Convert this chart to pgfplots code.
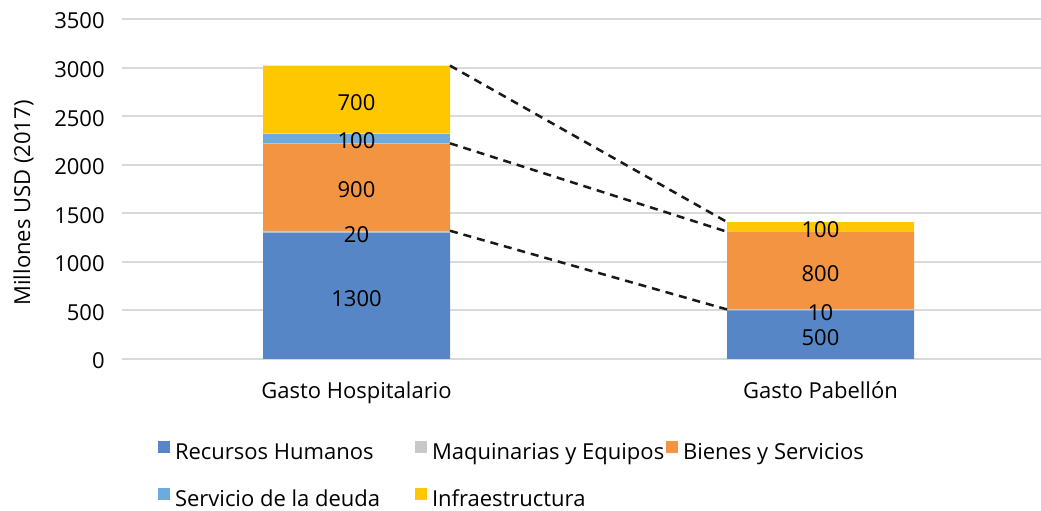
\documentclass[border=0pt]{standalone}
\usepackage{fontspec}
\setmainfont{Open Sans}
\usepackage{pgfplots}
\pgfplotsset{compat=1.18}

\definecolor{cRH}{HTML}{5686C5}
\definecolor{cME}{HTML}{C8C8C8}
\definecolor{cBS}{HTML}{F29441}
\definecolor{cSD}{HTML}{6CABDD}
\definecolor{cIN}{HTML}{FEC700}
\definecolor{cGrid}{HTML}{D9D9D9}

\pgfplotsset{
  sq/.style={fill=#1, draw=none,
    legend image code/.code={\fill[#1] (0pt,1pt) rectangle (6pt,7pt);}},
  base/.style={scale only axis, width=459.5pt, height=170pt,
    xmin=-0.5054, xmax=1.4752, enlarge x limits=false, ymin=0, ymax=3500},
  guide/.style={black!90, line width=1.25pt, dash pattern=on 4pt off 3pt},
}

\begin{document}
\begin{tikzpicture}
\begin{axis}[
    base,
    ybar stacked,
    bar width=93.5pt,
    ytick={0,500,...,3500},
    xtick={0,1},
    xticklabels={Gasto Hospitalario, Gasto Pabellón},
    axis line style={draw=none},
    major tick length=0pt,
    ymajorgrids,
    grid style={cGrid, line width=1pt},
    /pgf/number format/assume math mode=true,
    /pgf/number format/1000 sep={},
    tick label style={font=\fontsize{11}{13}\selectfont},
    xticklabel style={anchor=base, yshift=-20pt},
    yticklabel style={anchor=base east, inner sep=0pt, xshift=-8.5pt, yshift=-5pt},
    ylabel={Millones USD (2017)},
    every axis y label/.style={at={(axis description cs:-0.1001,0.4588)}, anchor=base, rotate=90,
      font=\fontsize{11}{13}\selectfont},
    legend columns=3,
    legend style={draw=none, fill=none, inner sep=0pt, outer sep=0pt,
      at={(axis description cs:0.0392,-0.240)}, anchor=north west,
      /tikz/every odd column/.style={column sep=2.5pt},
      nodes={inner sep=0pt, text height=7pt, text depth=2pt, font=\fontsize{11}{13}\selectfont},
      row sep=12pt},
    legend cell align=left,
]
\addplot[sq=cRH] coordinates {(0,1300) (1,500)};
\addlegendentry{\makebox[120pt][l]{Recursos Humanos}}
\addplot[sq=cME] coordinates {(0,20) (1,10)};
\addlegendentry{\makebox[117pt][l]{Maquinarias y Equipos}}
\addplot[sq=cBS] coordinates {(0,900) (1,800)};
\addlegendentry{Bienes y Servicios}
\addplot[sq=cSD] coordinates {(0,100) (1,0)};
\addlegendentry{\makebox[120pt][l]{Servicio de la deuda}}
\addplot[sq=cIN] coordinates {(0,700) (1,100)};
\addlegendentry{Infraestructura}
\coordinate (LL) at (rel axis cs:0,0);
\coordinate (UR) at (rel axis cs:1,1);
\end{axis}
% dashed guides and segment labels
\begin{axis}[base, hide axis]
\addplot[guide] coordinates {(0.2015,3020) (0.7985,1410)};
\addplot[guide] coordinates {(0.2015,2220) (0.7985,1310)};
\addplot[guide] coordinates {(0.2015,1320) (0.7985,510)};
\addplot[only marks, mark=none, point meta=explicit symbolic, nodes near coords,
  every node near coord/.style={anchor=center, font=\fontsize{11}{13}\selectfont, yshift=-1.3pt}]
  coordinates {
    (0,650) [1300] (0,1310) [20] (0,1770) [900] (0,2270) [100] (0,2670) [700]
    (1,250) [500] (1,505) [10] (1,910) [800] (1,1360) [100]
  };
\end{axis}
\pgfresetboundingbox
\path[use as bounding box] ([xshift=-61pt,yshift=-76pt]LL) rectangle ([yshift=9.5pt]UR);
\end{tikzpicture}
\end{document}
